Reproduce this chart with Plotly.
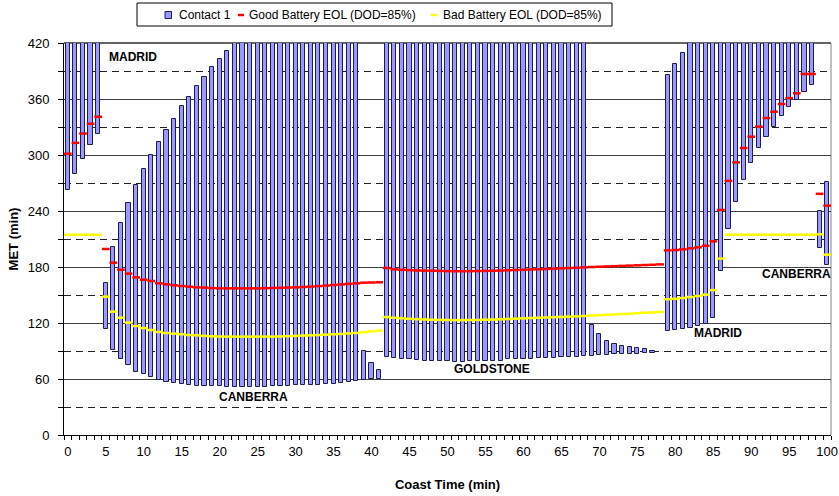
import plotly.graph_objects as go

# Coast time (min), one contact window per minute
coast = list(range(0, 101))

# Contact 1 window: start and end MET (min); None where there is no contact
contact_low = [
    262.5, 280, 296, 311, 322,                          # 0-4
    114, 91, 81, 75, 68, 65, 62, 59, 57, 56,            # 5-14
    55, 54, 53, 52.5, 52, 52, 51.5, 51.5, 51.5, 51.5,   # 15-24
    51.4, 51.6, 52, 52.3, 52.7, 53.2, 53.5, 53.8, 54.1, 54.4,  # 25-34
    54.6, 56, 56.8, 57.9, 59, 59.6, 60,                 # 35-41
    83.6, 82.5, 81.8, 81.1, 80.4, 79.6, 79.3, 79, 79,   # 42-50
    78, 78, 79.3, 79.3, 79.3, 79.3, 79.3, 81, 81, 81,   # 51-60
    81.8, 82, 82.5, 82.8, 83.2, 83.6, 83.9, 84.3,       # 61-68
    84.5, 85.4, 85.4, 86.4, 86.4, 86.8, 87.1, 87.9, 88.2, None,  # 69-78
    111, 112.5, 113.2, 115, 116.4, 118.6, 125.5, 176,   # 79-86
    220.5, 250, 273, 291, 307, 319, 330, 342, 351, 359, # 87-96
    367, 375, 200.7, 182.5,                             # 97-100
]
contact_high = [
    420, 420, 420, 420, 420,                            # 0-4
    163, 201, 227, 249, 268, 285, 300, 314, 327, 339,   # 5-14
    352, 362, 374, 384, 394, 403, 411, 420, 420, 420,   # 15-24
    420, 420, 420, 420, 420, 420, 420, 420, 420, 420,   # 25-34
    420, 420, 420, 420, 90, 77, 69.6,                   # 35-41
    420, 420, 420, 420, 420, 420, 420, 420, 420,        # 42-50
    420, 420, 420, 420, 420, 420, 420, 420, 420, 420,   # 51-60
    420, 420, 420, 420, 420, 420, 420, 420,             # 61-68
    118, 108, 101, 98, 95, 94, 93, 92, 90.4, None,      # 69-78
    386, 397, 409, 420, 420, 420, 420, 420,             # 79-86
    420, 420, 420, 420, 420, 420, 420, 420, 420, 420,   # 87-96
    420, 420, 240.4, 271.4,                             # 97-100
]

# End-of-life MET (min) at DOD = 85%
good_eol = [
    301.4, 313, 323, 333.5, 341,
    199.3, 184.6, 177.1, 172.9, 168.9, 166.4, 165, 162.5, 161.4, 160.4,
    159.6, 158.9, 158.2, 157.9, 157.4, 157.1, 157.1, 157.1, 157.1, 157.1,
    157.1, 157.3, 157.5, 157.7, 158, 158.2, 158.6, 159, 159.5, 160.1,
    160.7, 161.3, 161.9, 162.5, 163.2, 163.4, 163.6,
    178.9, 177.5, 177, 176.6, 176.3, 176.1, 176, 175.8, 175.6,
    175.5, 175.5, 175.6, 175.7, 175.8, 176, 176.2, 176.5, 176.8, 177.1,
    177.4, 177.6, 177.9, 178.2, 178.6, 178.9, 179.2, 179.6,
    180, 180.3, 180.6, 180.9, 181.2, 181.5, 181.8, 182.1, 182.4, 182.8,
    197.8, 198.2, 198.9, 200, 201.1, 202.8, 207.5, 241.2,
    272.3, 292.1, 307.5, 319.6, 330.4, 339.6, 346.4, 354.6, 361, 366.1,
    386.8, 386.8, 258.4, 245.7,
]
bad_eol = [
    214.5, 214.5, 214.5, 214.5, 214.5,
    148.2, 132.1, 125.7, 120.4, 116.8, 114.6, 112.5, 110.4, 109.3, 108.6,
    107.9, 107.1, 106.8, 106.2, 105.8, 105.5, 105.4, 105.4, 105.4, 105.4,
    105.4, 105.4, 105.4, 105.6, 105.9, 106.2, 106.5, 106.8, 107.1, 107.5,
    107.9, 108.3, 108.8, 109.3, 110.2, 111, 111.8,
    126.4, 125.6, 125, 124.5, 124.1, 123.8, 123.5, 123.3, 123.2,
    123.1, 123.1, 123.2, 123.3, 123.5, 123.7, 124, 124.3, 124.6, 125,
    125.3, 125.6, 125.9, 126.2, 126.5, 126.8, 127.1, 127.5,
    128, 128.4, 128.8, 129.2, 129.6, 130, 130.5, 131, 131.4, 131.8,
    145.4, 145.9, 146.8, 147.9, 148.9, 150.3, 155.2, 189,
    214.6, 214.6, 214.6, 214.6, 214.6, 214.6, 214.6, 214.6, 214.6, 214.6,
    214.6, 214.6, 215, 193.2,
]

# Ground station labels: (text, coast time, MET)
stations = [
    ("MADRID", 8.6, 405),
    ("CANBERRA", 24.5, 40.5),
    ("GOLDSTONE", 55.9, 70.5),
    ("MADRID", 85.6, 109),
    ("CANBERRA", 95.9, 172.5),
]

series_names = ["Contact 1", "Good Battery EOL (DOD=85%)", "Bad Battery EOL (DOD=85%)"]

FONT = "Liberation Sans, Arial, sans-serif"
BAR_FILL, BAR_EDGE = "#9999FF", "#1c1c50"
GOOD_COLOR, BAD_COLOR = "#FF0000", "#FFFF00"

W, H = 839, 496
ML, MR, MT, MB = 64, 8, 43, 61
PW, PH = W - ML - MR, H - MT - MB


def px(x):
    """Horizontal page pixel -> paper fraction."""
    return (x - ML) / PW


def py(y):
    """Vertical page pixel (from top) -> paper fraction."""
    return (H - MB - y) / PH


span = [None if lo is None else hi - lo for lo, hi in zip(contact_low, contact_high)]

fig = go.Figure()
fig.add_trace(go.Bar(
    x=coast, y=span, base=contact_low, name=series_names[0], width=0.55,
    marker=dict(color=BAR_FILL, line=dict(color=BAR_EDGE, width=1)),
))
fig.add_trace(go.Scatter(
    x=coast, y=good_eol, mode="markers", name=series_names[1],
    marker=dict(symbol="line-ew", size=5.5, line=dict(color=GOOD_COLOR, width=2.5)),
))
fig.add_trace(go.Scatter(
    x=coast, y=bad_eol, mode="markers", name=series_names[2],
    marker=dict(symbol="line-ew", size=5.5, line=dict(color=BAD_COLOR, width=2.5)),
))

for text, sx, sy in stations:
    fig.add_annotation(x=sx, y=sy, text=text, showarrow=False,
                       font=dict(family=FONT, size=12, color="black", weight="bold"))

# Plot-area frame: dark top edge, grey right edge
fig.add_shape(type="line", xref="paper", yref="paper", x0=0, x1=1, y0=1, y1=1,
              line=dict(color="#303030", width=1.5), layer="below")
fig.add_shape(type="line", xref="paper", yref="paper", x0=1, x1=1, y0=0, y1=1,
              line=dict(color="#808080", width=1), layer="below")

# Legend box across the top
fig.add_shape(type="rect", xref="paper", yref="paper",
              x0=px(137), x1=px(612), y0=py(26), y1=py(3),
              line=dict(color="black", width=1), fillcolor="white")
legend_mid = py(15)
fig.add_shape(type="rect", xref="paper", yref="paper",
              x0=px(165), x1=px(171.5), y0=py(18.5), y1=py(11.5),
              line=dict(color=BAR_EDGE, width=1), fillcolor=BAR_FILL)
fig.add_shape(type="line", xref="paper", yref="paper",
              x0=px(238), x1=px(244), y0=legend_mid, y1=legend_mid,
              line=dict(color=GOOD_COLOR, width=2.5))
fig.add_shape(type="line", xref="paper", yref="paper",
              x0=px(431), x1=px(437), y0=legend_mid, y1=legend_mid,
              line=dict(color=BAD_COLOR, width=2.5))
for name, left in zip(series_names, [176.5, 247, 440.5]):
    fig.add_annotation(xref="paper", yref="paper", x=px(left), y=legend_mid,
                       xanchor="left", yanchor="middle", text=name, showarrow=False,
                       font=dict(family=FONT, size=12, color="black"))

fig.update_layout(
    width=W, height=H,
    margin=dict(l=ML, r=MR, t=MT, b=MB, autoexpand=False),
    paper_bgcolor="white", plot_bgcolor="white",
    font=dict(family=FONT, size=13, color="black"),
    bargap=0, showlegend=False,
    xaxis=dict(
        range=[-0.5, 100.5], tickvals=list(range(0, 101, 5)), ticks="",
        showgrid=False, zeroline=False, showline=True, linecolor="black", linewidth=1,
        minor=dict(ticks="outside", tick0=-0.5, dtick=1, ticklen=4, tickcolor="black",
                   showgrid=False),
        title=dict(text="Coast Time (min)", font=dict(size=13, weight="bold"), standoff=22),
        ticklabelstandoff=4, automargin=False,
    ),
    yaxis=dict(
        range=[0, 420], dtick=60, ticks="outside", ticklen=5, tickcolor="black",
        showgrid=True, gridcolor="#404040", gridwidth=1, zeroline=False,
        showline=True, linecolor="black", linewidth=1,
        minor=dict(ticks="outside", dtick=30, ticklen=5, tickcolor="black",
                   showgrid=True, gridcolor="#202020", griddash="7px,5px", gridwidth=1),
        title=dict(text="MET (min)", font=dict(size=13, weight="bold"), standoff=6),
        ticklabelstandoff=6, automargin=False,
    ),
)

fig.write_html("out.html")
